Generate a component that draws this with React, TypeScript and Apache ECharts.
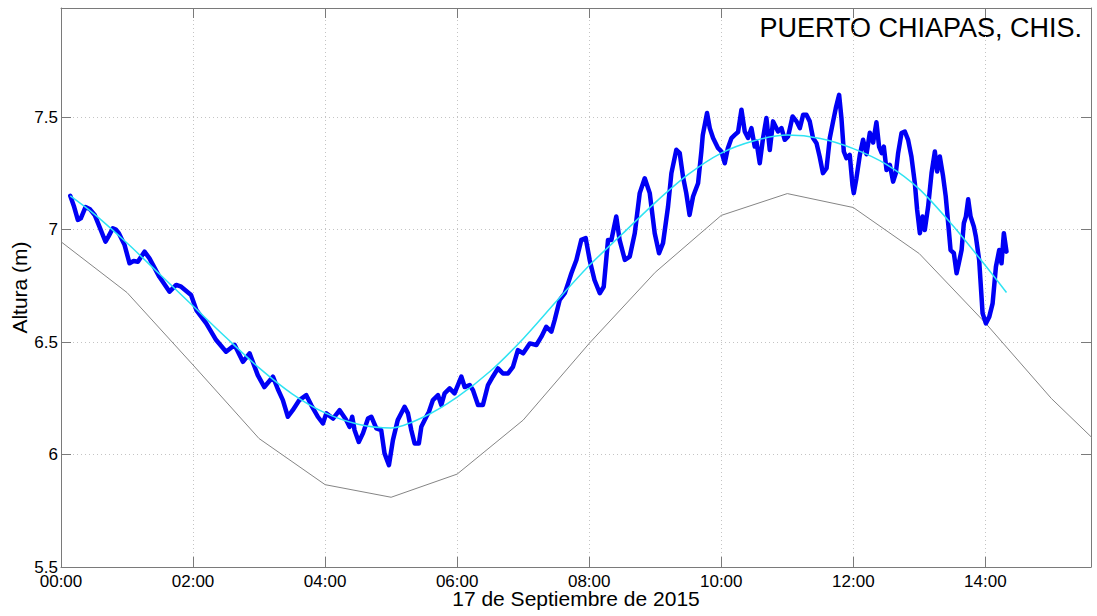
import React, { useEffect, useRef } from 'react';
import * as echarts from 'echarts';

// Hours after 00:00 on 17 Sep 2015, and sea level heights (m)
const observed: [number, number][] = [
  [0.14, 7.15], [0.2, 7.1], [0.255, 7.043], [0.3, 7.05], [0.371, 7.1], [0.44, 7.09], [0.51, 7.065],
  [0.573, 7.02], [0.674, 6.946], [0.72, 6.97], [0.785, 7.006], [0.83, 7.0], [0.876, 6.984],
  [0.962, 6.932], [1.038, 6.85], [1.1, 6.86], [1.164, 6.857], [1.265, 6.902], [1.34, 6.872],
  [1.49, 6.79], [1.644, 6.724], [1.745, 6.754], [1.82, 6.746], [1.97, 6.709], [2.05, 6.642],
  [2.2, 6.583], [2.35, 6.509], [2.5, 6.457], [2.63, 6.487], [2.755, 6.412], [2.856, 6.45],
  [2.98, 6.353], [3.08, 6.3], [3.21, 6.346], [3.285, 6.29], [3.36, 6.242], [3.436, 6.168],
  [3.51, 6.197], [3.61, 6.242], [3.715, 6.264], [3.79, 6.22], [3.89, 6.168], [3.967, 6.138],
  [4.018, 6.183], [4.12, 6.16], [4.22, 6.197], [4.32, 6.153], [4.37, 6.123], [4.41, 6.168],
  [4.447, 6.108], [4.51, 6.056], [4.573, 6.094], [4.65, 6.16], [4.7, 6.168], [4.776, 6.116],
  [4.85, 6.108], [4.9, 6.005], [4.967, 5.953], [5.027, 6.064], [5.1, 6.153], [5.204, 6.212],
  [5.255, 6.183], [5.306, 6.108], [5.356, 6.049], [5.42, 6.049], [5.457, 6.123], [5.533, 6.168],
  [5.573, 6.19], [5.633, 6.242], [5.71, 6.264], [5.76, 6.22], [5.81, 6.272], [5.886, 6.294],
  [5.96, 6.272], [6.064, 6.346], [6.114, 6.3], [6.19, 6.309], [6.24, 6.286], [6.316, 6.22],
  [6.39, 6.22], [6.467, 6.309], [6.54, 6.346], [6.618, 6.383], [6.694, 6.36], [6.77, 6.36],
  [6.845, 6.39], [6.92, 6.464], [7.0, 6.45], [7.1, 6.494], [7.2, 6.487], [7.276, 6.524],
  [7.35, 6.568], [7.427, 6.546], [7.477, 6.598], [7.553, 6.687], [7.63, 6.717], [7.68, 6.761],
  [7.73, 6.806], [7.806, 6.865], [7.88, 6.954], [7.947, 6.962], [8.007, 6.865], [8.08, 6.776],
  [8.16, 6.717], [8.22, 6.746], [8.285, 6.954], [8.336, 6.954], [8.41, 7.058], [8.46, 6.954],
  [8.54, 6.865], [8.614, 6.88], [8.69, 6.984], [8.765, 7.162], [8.841, 7.228], [8.917, 7.162],
  [8.992, 6.984], [9.058, 6.895], [9.118, 6.94], [9.194, 7.102], [9.245, 7.251], [9.32, 7.355],
  [9.371, 7.34], [9.42, 7.236], [9.47, 7.162], [9.52, 7.065], [9.573, 7.147], [9.649, 7.206],
  [9.7, 7.35], [9.72, 7.42], [9.785, 7.518], [9.826, 7.451], [9.876, 7.407], [9.952, 7.362],
  [10.003, 7.347], [10.053, 7.295], [10.1, 7.362], [10.155, 7.407], [10.205, 7.421],
  [10.255, 7.434], [10.306, 7.533], [10.356, 7.436], [10.406, 7.407], [10.457, 7.451],
  [10.507, 7.369], [10.533, 7.391], [10.583, 7.295], [10.633, 7.407], [10.684, 7.496],
  [10.735, 7.354], [10.785, 7.481], [10.86, 7.436], [10.912, 7.451], [10.962, 7.399],
  [11.012, 7.414], [11.08, 7.503], [11.14, 7.481], [11.19, 7.451], [11.24, 7.51], [11.29, 7.51],
  [11.34, 7.481], [11.39, 7.407], [11.443, 7.384], [11.49, 7.325], [11.54, 7.251],
  [11.595, 7.273], [11.644, 7.407], [11.694, 7.481], [11.735, 7.54], [11.785, 7.599],
  [11.82, 7.496], [11.856, 7.347], [11.896, 7.317], [11.946, 7.332], [11.987, 7.199],
  [12.007, 7.162], [12.047, 7.228], [12.098, 7.33], [12.148, 7.399], [12.2, 7.335], [12.25, 7.43],
  [12.3, 7.387], [12.35, 7.477], [12.39, 7.369], [12.43, 7.34], [12.462, 7.369], [12.503, 7.265],
  [12.553, 7.288], [12.603, 7.213], [12.644, 7.251], [12.679, 7.34], [12.73, 7.429],
  [12.78, 7.436], [12.83, 7.399], [12.88, 7.325], [12.932, 7.206], [12.967, 7.087],
  [13.008, 6.984], [13.048, 7.058], [13.083, 6.998], [13.133, 7.102], [13.185, 7.251],
  [13.235, 7.347], [13.27, 7.258], [13.31, 7.325], [13.36, 7.236], [13.4, 7.147], [13.437, 7.028],
  [13.473, 6.909], [13.523, 6.895], [13.564, 6.806], [13.598, 6.85], [13.64, 6.909],
  [13.674, 7.028], [13.705, 7.058], [13.74, 7.135], [13.776, 7.058], [13.826, 7.013],
  [13.856, 6.969], [13.906, 6.865], [13.958, 6.628], [14.008, 6.583], [14.06, 6.613],
  [14.11, 6.672], [14.16, 6.835], [14.21, 6.909], [14.245, 6.85], [14.28, 6.984], [14.32, 6.902],
];

const filtered: [number, number][] = [
  [0.14, 7.15], [0.5, 7.07], [1, 6.94], [1.5, 6.8], [2, 6.66], [2.5, 6.52], [3, 6.385],
  [3.5, 6.27], [4, 6.185], [4.5, 6.135], [5, 6.118], [5.5, 6.168], [6, 6.255], [6.5, 6.37],
  [7, 6.515], [7.5, 6.68], [8, 6.84], [8.5, 6.98], [9, 7.12], [9.5, 7.245], [10, 7.34],
  [10.5, 7.395], [11, 7.42], [11.5, 7.405], [12, 7.36], [12.5, 7.29], [13, 7.18], [13.5, 7.02],
  [14, 6.84], [14.32, 6.72],
];

const predicted: [number, number][] = [
  [0, 6.946], [1, 6.72], [2, 6.398], [3, 6.071], [4, 5.866], [5, 5.81], [6, 5.913], [7, 6.153],
  [8, 6.494], [9, 6.81], [10, 7.063], [11, 7.16], [12, 7.098], [13, 6.893], [14, 6.585],
  [15, 6.249], [16, 5.966],
];

const title = 'PUERTO CHIAPAS, CHIS.';
const xName = '17 de Septiembre de 2015';
const yName = 'Altura (m)';

const FONT = '"Liberation Sans", Arial, Helvetica, sans-serif';
const AXIS_COLOR = '#7a7a7a';

export default function App() {
  const ref = useRef<HTMLDivElement>(null);
  useEffect(() => {
    const chart = echarts.init(ref.current!, null, { renderer: 'svg' });
    const xFmt = (v: number) =>
      Number.isInteger(v) && v % 2 === 0 ? `${String(v).padStart(2, '0')}:00` : '';
    const yFmt = (v: number) => {
      const r = Math.round(v * 2) / 2;
      return Math.abs(r - v) < 1e-6 && v <= 7.5 + 1e-6 ? String(r) : '';
    };
    const split = { show: true, lineStyle: { color: '#c4c4c4', width: 1, type: [1, 3] as any } };
    chart.setOption({
      animation: false,
      backgroundColor: '#ffffff',
      textStyle: { fontFamily: FONT },
      grid: {
        left: 61,
        right: 6,
        top: 8,
        bottom: 49,
        containLabel: false,
        outerBoundsMode: 'none',
      } as any,
      graphic: [
        {
          type: 'text',
          right: 15,
          top: 14,
          style: { text: title, font: `27px ${FONT}`, fill: '#000' },
        },
      ],
      xAxis: [
        {
          type: 'value',
          min: 0,
          max: 15.6,
          interval: 2,
          position: 'bottom',
          name: xName,
          nameLocation: 'middle',
          nameGap: 23.5,
          nameMoveOverlap: false,
          nameTextStyle: { fontSize: 21, lineHeight: 16, color: '#000', fontFamily: FONT },
          axisLine: { show: true, onZero: false, lineStyle: { color: AXIS_COLOR, width: 1 } },
          axisTick: { show: true, inside: true, length: 10, lineStyle: { color: AXIS_COLOR } },
          axisLabel: {
            formatter: xFmt,
            fontSize: 17,
            lineHeight: 16,
            color: '#000',
            margin: 6,
            fontFamily: FONT,
          },
          splitLine: split,
        },
        {
          type: 'value',
          min: 0,
          max: 15.6,
          interval: 2,
          position: 'top',
          axisLine: { show: true, onZero: false, lineStyle: { color: AXIS_COLOR, width: 1 } },
          axisTick: { show: true, inside: true, length: 10, lineStyle: { color: AXIS_COLOR } },
          axisLabel: { show: false },
          splitLine: { show: false },
        },
      ],
      yAxis: [
        {
          type: 'value',
          min: 5.5,
          max: 7.985,
          interval: 0.5,
          position: 'left',
          name: yName,
          nameLocation: 'middle',
          nameGap: 31,
          nameMoveOverlap: false,
          nameTextStyle: { fontSize: 21, color: '#000', fontFamily: FONT },
          axisLine: { show: true, onZero: false, lineStyle: { color: AXIS_COLOR, width: 1 } },
          axisTick: { show: true, inside: true, length: 10, lineStyle: { color: AXIS_COLOR } },
          axisLabel: { formatter: yFmt, fontSize: 17, color: '#000', margin: 3, fontFamily: FONT },
          splitLine: split,
        },
        {
          type: 'value',
          min: 5.5,
          max: 7.985,
          interval: 0.5,
          position: 'right',
          axisLine: { show: true, onZero: false, lineStyle: { color: AXIS_COLOR, width: 1 } },
          axisTick: { show: true, inside: true, length: 10, lineStyle: { color: AXIS_COLOR } },
          axisLabel: { show: false },
          splitLine: { show: false },
        },
      ],
      series: [
        {
          name: 'Predicha',
          type: 'line',
          xAxisIndex: 0,
          yAxisIndex: 0,
          data: predicted,
          showSymbol: false,
          symbol: 'none',
          clip: true,
          lineStyle: { color: '#858585', width: 1 },
          z: 2,
        },
        {
          name: 'Observada',
          type: 'line',
          xAxisIndex: 0,
          yAxisIndex: 0,
          data: observed,
          showSymbol: false,
          symbol: 'none',
          lineStyle: { color: '#0000f5', width: 4.5, join: 'round', cap: 'round' },
          z: 3,
        },
        {
          name: 'Filtrada',
          type: 'line',
          xAxisIndex: 0,
          yAxisIndex: 0,
          data: filtered,
          showSymbol: false,
          symbol: 'none',
          smooth: 0.3,
          lineStyle: { color: '#2ee3f2', width: 1.5 },
          z: 4,
        },
      ],
    });
    return () => chart.dispose();
  }, []);
  return (
    <div
      ref={ref}
      style={{ position: 'fixed', left: 0, top: 0, width: 1097, height: 616, background: '#fff' }}
    />
  );
}
